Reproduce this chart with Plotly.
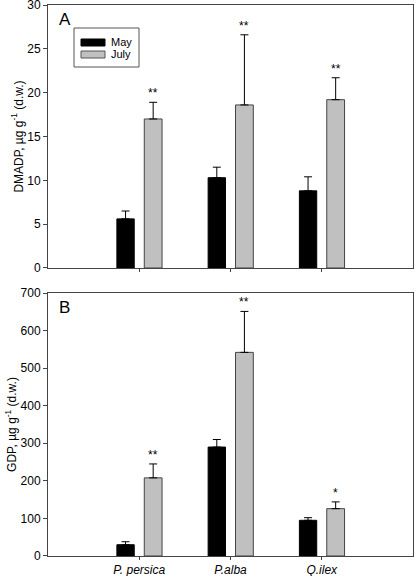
import plotly.graph_objects as go

species = ["P. persica", "P.alba", "Q.ilex"]
x_pos = [1, 2, 3]

dmadp_may = [5.6, 10.3, 8.8]
dmadp_may_err = [0.9, 1.2, 1.6]
dmadp_july = [17.0, 18.6, 19.2]
dmadp_july_err = [1.9, 8.0, 2.5]
dmadp_sig = ["**", "**", "**"]

gdp_may = [30, 290, 95]
gdp_may_err = [8, 20, 7]
gdp_july = [208, 542, 126]
gdp_july_err = [37, 109, 18]
gdp_sig = ["**", "**", "*"]

dmadp_ticks = [0, 5, 10, 15, 20, 25, 30]
gdp_ticks = [0, 100, 200, 300, 400, 500, 600, 700]

MAY_COLOR = "#000000"
JULY_COLOR = "#c0c0c0"
FONT = "Liberation Sans, Arial, sans-serif"

fig = go.Figure()

def add_panel(may, may_err, july, july_err, xa, ya):
    fig.add_trace(go.Bar(
        x=x_pos, y=may, width=0.19, offset=-0.245,
        marker=dict(color=MAY_COLOR, line=dict(color="#000000", width=1)),
        error_y=dict(type="data", symmetric=False, array=may_err,
                     arrayminus=[0] * len(may), color="#000000", thickness=1, width=4),
        xaxis=xa, yaxis=ya, showlegend=False, hoverinfo="skip"))
    fig.add_trace(go.Bar(
        x=x_pos, y=july, width=0.195, offset=0.055,
        marker=dict(color=JULY_COLOR, line=dict(color="#444444", width=1)),
        error_y=dict(type="data", symmetric=False, array=july_err,
                     arrayminus=[0] * len(july), color="#000000", thickness=1, width=4),
        xaxis=xa, yaxis=ya, showlegend=False, hoverinfo="skip"))

add_panel(dmadp_may, dmadp_may_err, dmadp_july, dmadp_july_err, "x", "y")
add_panel(gdp_may, gdp_may_err, gdp_july, gdp_july_err, "x2", "y2")

annotations = []
for xa, ya, vals, errs, sig in [("x", "y", dmadp_july, dmadp_july_err, dmadp_sig),
                                ("x2", "y2", gdp_july, gdp_july_err, gdp_sig)]:
    for xi, v, e, s in zip(x_pos, vals, errs, sig):
        annotations.append(dict(x=xi + 0.1525, y=v + e, xref=xa, yref=ya, text=s,
                                showarrow=False, yanchor="bottom", yshift=0,
                                font=dict(size=12, color="#000000", family=FONT)))

annotations.append(dict(x=0.025, y=1.0, xref="paper", yref="paper", text="A",
                        showarrow=False, xanchor="left", yanchor="top", yshift=-3,
                        font=dict(size=17, color="#000000", family=FONT)))
annotations.append(dict(x=0.025, y=0.4773, xref="paper", yref="paper", text="B",
                        showarrow=False, xanchor="left", yanchor="top", yshift=-3,
                        font=dict(size=17, color="#000000", family=FONT)))

# manual legend (wide swatches)
W, H = 415, 576
ml, mr, mt, mb = 48, 2, 5, 20
pw, ph = W - ml - mr, H - mt - mb
def px(xp): return (xp - ml) / pw
def py(yp): return (H - mb - yp) / ph

shapes = [
    dict(type="rect", xref="paper", yref="paper", x0=px(74), x1=px(139), y0=py(67), y1=py(28),
         line=dict(color="#555555", width=1), fillcolor="white"),
    dict(type="rect", xref="paper", yref="paper", x0=px(81), x1=px(105), y0=py(46), y1=py(39),
         line=dict(color="#000000", width=1), fillcolor=MAY_COLOR),
    dict(type="rect", xref="paper", yref="paper", x0=px(81), x1=px(105), y0=py(58), y1=py(51),
         line=dict(color="#555555", width=1), fillcolor=JULY_COLOR),
]
annotations.append(dict(x=px(109), y=py(42.5), xref="paper", yref="paper", text="May",
                        showarrow=False, xanchor="left", yanchor="middle",
                        font=dict(size=11, color="#000000", family=FONT)))
annotations.append(dict(x=px(109), y=py(54.5), xref="paper", yref="paper", text="July",
                        showarrow=False, xanchor="left", yanchor="middle",
                        font=dict(size=11, color="#000000", family=FONT)))

axis_common = dict(showline=True, linecolor="#444444", linewidth=1, mirror=True,
                   ticks="outside", ticklen=4, tickcolor="#444444", showgrid=False,
                   zeroline=False, automargin=False, ticklabeloverflow="allow",
                   tickfont=dict(size=12, color="#000000", family=FONT))
xaxis_common = {**axis_common, "ticklen": 3}

fig.update_layout(
    width=W, height=H,
    margin=dict(l=ml, r=mr, t=mt, b=mb),
    paper_bgcolor="white", plot_bgcolor="white",
    barmode="overlay",
    showlegend=False,
    hovermode=False,
    shapes=shapes,
    annotations=annotations,
    xaxis=dict(domain=[0, 1], range=[0, 4], tickvals=x_pos, ticktext=["", "", ""],
               anchor="y", **xaxis_common),
    yaxis=dict(domain=[0.5227, 1], range=[0, 30], tickvals=dmadp_ticks, anchor="x",
               title=dict(text="DMADP, µg g<sup>-1</sup> (d.w.)", standoff=1,
                          font=dict(size=12, color="#000000", family=FONT)),
               **axis_common),
    xaxis2=dict(domain=[0, 1], range=[0, 4], tickvals=x_pos, ticktext=species,
                anchor="y2", **{**xaxis_common,
                                "tickfont": dict(size=12, color="#000000",
                                                 family=FONT, style="italic")}),
    yaxis2=dict(domain=[0, 0.4773], range=[0, 700], tickvals=gdp_ticks, anchor="x2",
                title=dict(text="GDP, µg g<sup>-1</sup> (d.w.)", standoff=1,
                           font=dict(size=12, color="#000000", family=FONT)),
                **axis_common),
)

fig.write_html("out.html",
               config={"displayModeBar": False},
               post_script="document.body.style.margin='0';document.body.style.overflow='hidden';")
